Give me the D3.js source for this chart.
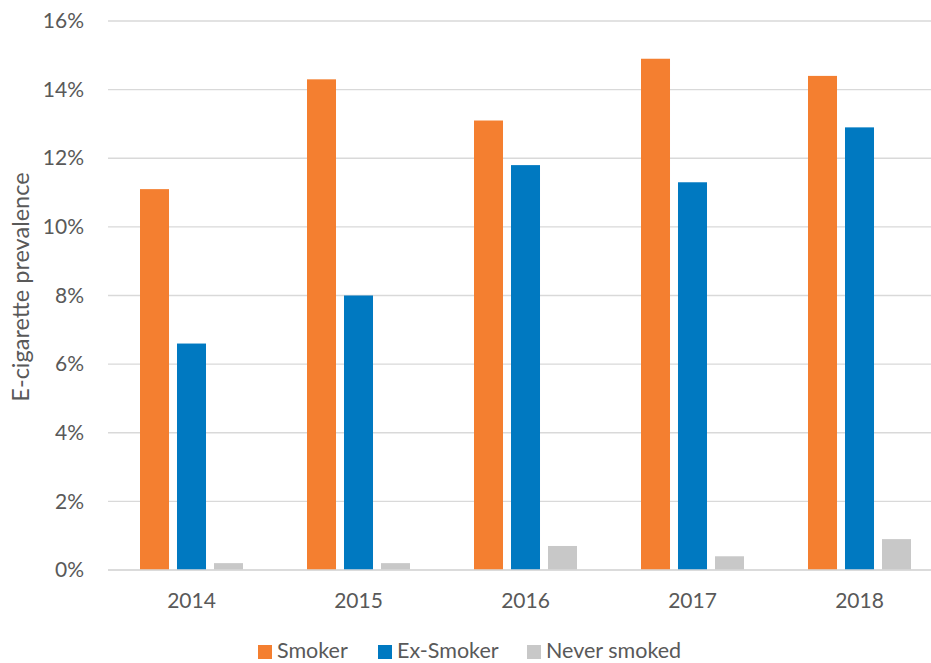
<!DOCTYPE html>
<html>
<head>
<meta charset="utf-8">
<script src="https://cdn.jsdelivr.net/npm/d3@7"></script>
<style>
  html, body { margin: 0; padding: 0; background: #fff; }
  svg { display: block; }
  text { font-family: Lato, "Open Sans", sans-serif; fill: #595959; }
</style>
</head>
<body>
<svg id="chart" width="931" height="663"></svg>
<script>
// E-cigarette prevalence by smoking status, 2014–2018
const years = ["2014", "2015", "2016", "2017", "2018"];
const seriesNames = ["Smoker", "Ex-Smoker", "Never smoked"];
const smoker = [11.1, 14.3, 13.1, 14.9, 14.4];
const exSmoker = [6.6, 8.0, 11.8, 11.3, 12.9];
const neverSmoked = [0.2, 0.2, 0.7, 0.4, 0.9];
const yTicks = [0, 2, 4, 6, 8, 10, 12, 14, 16];
const colors = ["#F47F30", "#0079C1", "#C8C8C8"];

const seriesValues = [smoker, exSmoker, neverSmoked];
const rows = years.map((y, i) => ({ year: y, values: seriesValues.map(s => s[i]) }));

const svg = d3.select("#chart");
const margin = { left: 108, top: 21, bottom: 93 };
const plotRight = 943;
const plotBottom = 663 - margin.bottom;

const x = d3.scaleBand().domain(years).range([margin.left, plotRight]).paddingInner(0).paddingOuter(0);
// bars of one year sit together in the middle of the year's band
const groupPad = 32;
const xInner = d3.scaleBand().domain(seriesNames).range([groupPad, x.bandwidth() - groupPad]).paddingInner(0.216).paddingOuter(0);
const y = d3.scaleLinear().domain([0, 16]).range([plotBottom, margin.top]);

// gridlines
svg.append("g")
  .selectAll("line")
  .data(yTicks)
  .join("line")
  .attr("x1", margin.left)
  .attr("x2", plotRight)
  .attr("y1", d => y(d))
  .attr("y2", d => y(d))
  .attr("stroke", "#D9D9D9")
  .attr("stroke-width", 1.3);

// y tick labels
const yAxis = d3.axisLeft(y).tickValues(yTicks).tickFormat(d => d + "%").tickSize(0).tickPadding(0);
const yg = svg.append("g").attr("transform", `translate(84,0)`).call(yAxis);
yg.select(".domain").remove();
yg.selectAll("text").style("font-size", "21px").style("font-family", "Lato, 'Open Sans', sans-serif").attr("fill", "#595959");

// bars
const groups = svg.append("g")
  .selectAll("g")
  .data(rows)
  .join("g")
  .attr("transform", d => `translate(${x(d.year)},0)`);

groups.selectAll("rect")
  .data(d => d.values.map((v, j) => ({ name: seriesNames[j], value: v, color: colors[j] })))
  .join("rect")
  .attr("x", d => xInner(d.name))
  .attr("width", xInner.bandwidth())
  .attr("y", d => y(d.value))
  .attr("height", d => y(0) - y(d.value))
  .attr("fill", d => d.color);

// x axis labels
const xAxis = d3.axisBottom(x).tickSize(0).tickPadding(0);
const xg = svg.append("g").attr("transform", `translate(0,601)`).call(xAxis);
xg.select(".domain").remove();
xg.selectAll("text").style("font-size", "21px").style("font-family", "Lato, 'Open Sans', sans-serif").attr("fill", "#595959").attr("dy", "0.35em");

// baseline
svg.append("line")
  .attr("x1", margin.left).attr("x2", plotRight)
  .attr("y1", y(0)).attr("y2", y(0))
  .attr("stroke", "#D9D9D9").attr("stroke-width", 1.5);

// y axis title
svg.append("text")
  .attr("transform", `translate(21,287) rotate(-90)`)
  .attr("text-anchor", "middle")
  .attr("dy", "0.35em")
  .style("font-size", "23.5px")
  .text("E-cigarette prevalence");

// legend
const legendX = [258, 378, 527];
const legend = svg.append("g")
  .selectAll("g")
  .data(seriesNames)
  .join("g")
  .attr("transform", (d, i) => `translate(${legendX[i]},645)`);
legend.append("rect").attr("width", 14).attr("height", 14).attr("y", 0).attr("fill", (d, i) => colors[i]);
legend.append("text").attr("x", 19).attr("y", 13).style("font-size", "21.5px").text(d => d);
</script>
</body>
</html>
